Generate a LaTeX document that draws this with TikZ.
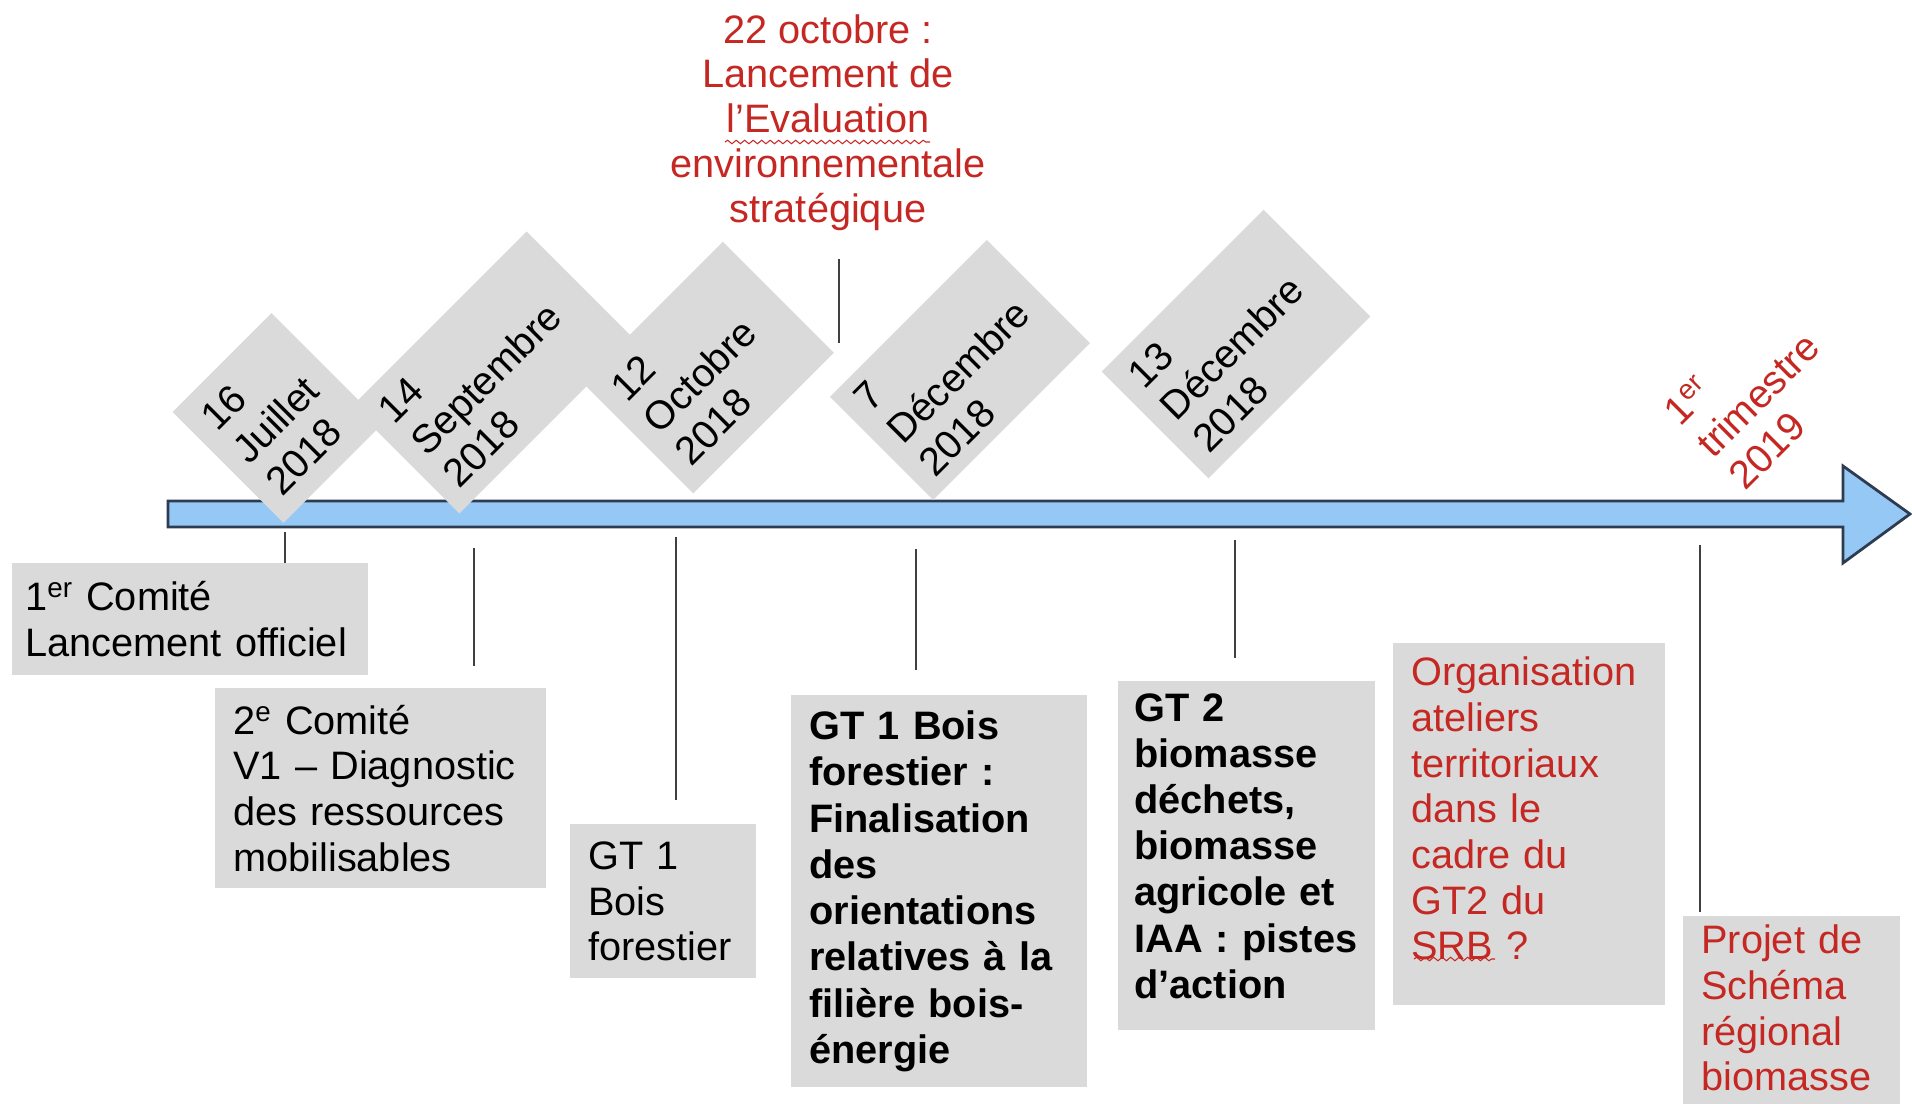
\documentclass[tikz,border=0pt]{standalone}
\usepackage{fontspec}
\setmainfont{Liberation Sans}
\usepackage{xcolor}
\usepackage{tikz}
\usetikzlibrary{shapes,arrows,positioning,calc,decorations.pathmorphing,arrows.meta}

\definecolor{boxgray}{RGB}{218,218,218}
\definecolor{shaftblue}{RGB}{150,200,245}
\definecolor{shaftline}{RGB}{45,60,80}
\definecolor{noted}{RGB}{197,40,35}

% extra room under the last line of a box
\newcommand{\padbelow}[1]{\rule[-#1]{0pt}{0pt}}

\begin{document}
\begin{tikzpicture}[x=0.02cm, y=-0.02cm,
    txt/.style={font=\fontsize{22.6}{26}\selectfont},
    datebox/.style={txt, fill=boxgray, rotate=45, align=left, inner xsep=0.34cm, inner ysep=0pt},
    card/.style={txt, fill=boxgray, anchor=north west, align=left, inner xsep=0.36cm, inner ysep=0pt},
    boldcard/.style={card, font=\fontsize{22.6}{26.3}\selectfont\bfseries},
    tick/.style={black!75, line width=1.6pt},
    squiggle/.style={noted, line width=0.6pt, decorate, decoration={snake, amplitude=0.035cm, segment length=0.17cm}}]

    \useasboundingbox (0,0) rectangle (1912,1104);

    % Time axis
    \draw [shaftline, line width=1.6pt, fill=shaftblue] (168,501) -- (1843,501) -- (1843,466) -- (1910,514) -- (1843,563) -- (1843,527) -- (168,527) -- cycle;

    % Dates
    \node [datebox, text width=2.12cm, minimum height=3.14cm] (d1) at (277.5,418) {16\\Juillet\\2018};
    \node [datebox, text width=4.26cm, minimum height=3.04cm] (d2) at (493,372.5) {14\\Septembre\\2018};
    \node [datebox, text width=3.30cm, minimum height=3.14cm] (d3) at (708,367.5) {12\\Octobre\\2018};
    \node [datebox, text width=3.76cm, minimum height=2.92cm] (d4) at (960,370) {7\\Décembre\\2018};
    \node [datebox, text width=3.90cm, minimum height=3.02cm] (d5) at (1236,344) {13\\Décembre\\2018};
    \node [txt, text=noted, rotate=45, align=left, inner sep=0pt] (tri) at (1758,395) {1\textsuperscript{er}\\trimestre\\2019};

    % Evaluation note
    \node [txt, text=noted, align=center, anchor=north, inner sep=0pt, font=\fontsize{22.6}{25.5}\selectfont] (eval) at (828,14) {22 octobre :\\Lancement de\\l’Evaluation\\environnementale\\stratégique};
    \draw [squiggle] (725,142) -- (930,142);

    % Events
    \node [card, inner xsep=0.26cm, text width=6.6cm, minimum height=2.24cm] (cmt1) at (12,563) {1\textsuperscript{er} Comité\\Lancement officiel};
    \node [card, text width=5.9cm, minimum height=4.0cm] (cmt2) at (215,688) {2\textsuperscript{e} Comité\\V1 -- Diagnostic\\des ressources\\mobilisables};
    \node [card, text width=3.0cm, minimum height=3.08cm] (gt1a) at (570,824) {GT 1\\Bois\\forestier};
    \node [boldcard, text width=5.2cm, minimum height=7.84cm] (gt1b) at (791,695) {GT 1 Bois\\forestier :\\Finalisation\\des\\orientations\\relatives à la\\filière bois-\\énergie};
    \node [boldcard, inner xsep=0.32cm, text width=4.5cm, minimum height=6.98cm] (gt2) at (1118,681) {GT 2\\biomasse\\déchets,\\biomasse\\agricole et\\IAA : pistes\\d’action\padbelow{0.4cm}};
    \node [card, text=noted, text width=4.72cm, minimum height=7.24cm] (atel) at (1393,643) {Organisation\\ateliers\\territoriaux\\dans le\\cadre du\\GT2 du\\SRB ?\padbelow{0.64cm}};
    \draw [squiggle] (1414,959) -- (1495,959);
    \node [card, text=noted, text width=3.62cm, minimum height=4.1cm] (proj) at (1683,916) {Projet de\\Schéma\\régional\\biomasse\padbelow{0.44cm}};

    % Ticks
    \coordinate (t1) at (285,532);
    \coordinate (t2) at (474,548);
    \coordinate (t3) at (676,537);
    \coordinate (t4) at (916,549);
    \coordinate (t5) at (1235,540);
    \coordinate (t6) at (1700,545);
    \coordinate (t7) at (839,343);
    \draw [tick] (t1) -- (t1 |- cmt1.north);
    \draw [tick, shorten >=0.44cm] (t2) -- (t2 |- cmt2.north);
    \draw [tick, shorten >=0.48cm] (t3) -- (t3 |- gt1a.north);
    \draw [tick, shorten >=0.5cm] (t4) -- (t4 |- gt1b.north);
    \draw [tick, shorten >=0.46cm] (t5) -- (t5 |- gt2.north);
    \draw [tick, shorten >=0.08cm] (t6) -- (t6 |- proj.north);
    \draw [tick, shorten >=0.56cm] (t7) -- (t7 |- eval.south);
\end{tikzpicture}
\end{document}
